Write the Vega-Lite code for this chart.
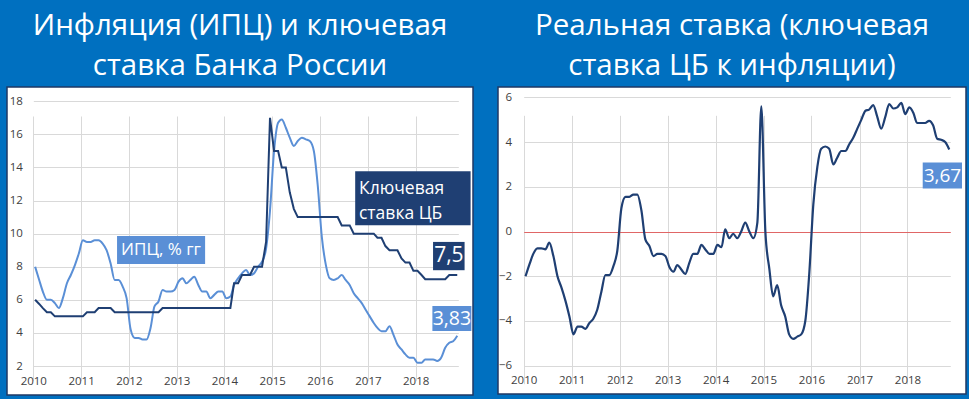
{
  "$schema": "https://vega.github.io/schema/vega-lite/v6.json",
  "background": "#0070C0",
  "padding": {"left": 6, "top": 9, "right": 6, "bottom": 6},
  "spacing": 23,
  "config": {
    "view": {"fill": "white", "stroke": "#1F3864", "strokeWidth": 1.5},
    "title": {"color": "white", "font": "Open Sans", "fontSize": 29.5, "fontWeight": "normal", "lineHeight": 40, "anchor": "middle", "offset": 6},
    "axis": {"labelFont": "Open Sans", "labelFontSize": 11.5, "labelColor": "#404040", "gridColor": "#D9D9D9", "gridWidth": 1, "domain": false, "ticks": false, "title": null, "labelFlush": false}
  },
  "datasets": {
    "m": [
      {"date": "2010-01-15", "cpi": 8.0, "key": 6.0, "real": -2.0},
      {"date": "2010-02-15", "cpi": 7.2, "key": 5.75, "real": -1.45},
      {"date": "2010-03-15", "cpi": 6.5, "key": 5.5, "real": -1.0},
      {"date": "2010-04-15", "cpi": 6.0, "key": 5.25, "real": -0.75},
      {"date": "2010-05-15", "cpi": 6.0, "key": 5.25, "real": -0.75},
      {"date": "2010-06-15", "cpi": 5.8, "key": 5.0, "real": -0.8},
      {"date": "2010-07-15", "cpi": 5.5, "key": 5.0, "real": -0.5},
      {"date": "2010-08-15", "cpi": 6.1, "key": 5.0, "real": -1.1},
      {"date": "2010-09-15", "cpi": 7.0, "key": 5.0, "real": -2.0},
      {"date": "2010-10-15", "cpi": 7.5, "key": 5.0, "real": -2.5},
      {"date": "2010-11-15", "cpi": 8.1, "key": 5.0, "real": -3.1},
      {"date": "2010-12-15", "cpi": 8.8, "key": 5.0, "real": -3.8},
      {"date": "2011-01-15", "cpi": 9.6, "key": 5.0, "real": -4.6},
      {"date": "2011-02-15", "cpi": 9.5, "key": 5.25, "real": -4.25},
      {"date": "2011-03-15", "cpi": 9.5, "key": 5.25, "real": -4.25},
      {"date": "2011-04-15", "cpi": 9.6, "key": 5.25, "real": -4.35},
      {"date": "2011-05-15", "cpi": 9.6, "key": 5.5, "real": -4.1},
      {"date": "2011-06-15", "cpi": 9.4, "key": 5.5, "real": -3.9},
      {"date": "2011-07-15", "cpi": 9.0, "key": 5.5, "real": -3.5},
      {"date": "2011-08-15", "cpi": 8.2, "key": 5.5, "real": -2.7},
      {"date": "2011-09-15", "cpi": 7.2, "key": 5.25, "real": -1.95},
      {"date": "2011-10-15", "cpi": 7.2, "key": 5.25, "real": -1.95},
      {"date": "2011-11-15", "cpi": 6.8, "key": 5.25, "real": -1.55},
      {"date": "2011-12-15", "cpi": 6.1, "key": 5.25, "real": -0.85},
      {"date": "2012-01-15", "cpi": 4.2, "key": 5.25, "real": 1.05},
      {"date": "2012-02-15", "cpi": 3.7, "key": 5.25, "real": 1.55},
      {"date": "2012-03-15", "cpi": 3.7, "key": 5.25, "real": 1.55},
      {"date": "2012-04-15", "cpi": 3.6, "key": 5.25, "real": 1.65},
      {"date": "2012-05-15", "cpi": 3.6, "key": 5.25, "real": 1.65},
      {"date": "2012-06-15", "cpi": 4.3, "key": 5.25, "real": 0.95},
      {"date": "2012-07-15", "cpi": 5.6, "key": 5.25, "real": -0.35},
      {"date": "2012-08-15", "cpi": 5.9, "key": 5.25, "real": -0.65},
      {"date": "2012-09-15", "cpi": 6.6, "key": 5.5, "real": -1.1},
      {"date": "2012-10-15", "cpi": 6.5, "key": 5.5, "real": -1.0},
      {"date": "2012-11-15", "cpi": 6.5, "key": 5.5, "real": -1.0},
      {"date": "2012-12-15", "cpi": 6.6, "key": 5.5, "real": -1.1},
      {"date": "2013-01-15", "cpi": 7.1, "key": 5.5, "real": -1.6},
      {"date": "2013-02-15", "cpi": 7.3, "key": 5.5, "real": -1.8},
      {"date": "2013-03-15", "cpi": 7.0, "key": 5.5, "real": -1.5},
      {"date": "2013-04-15", "cpi": 7.2, "key": 5.5, "real": -1.7},
      {"date": "2013-05-15", "cpi": 7.4, "key": 5.5, "real": -1.9},
      {"date": "2013-06-15", "cpi": 6.9, "key": 5.5, "real": -1.4},
      {"date": "2013-07-15", "cpi": 6.5, "key": 5.5, "real": -1.0},
      {"date": "2013-08-15", "cpi": 6.5, "key": 5.5, "real": -1.0},
      {"date": "2013-09-15", "cpi": 6.1, "key": 5.5, "real": -0.6},
      {"date": "2013-10-15", "cpi": 6.3, "key": 5.5, "real": -0.8},
      {"date": "2013-11-15", "cpi": 6.5, "key": 5.5, "real": -1.0},
      {"date": "2013-12-15", "cpi": 6.5, "key": 5.5, "real": -1.0},
      {"date": "2014-01-15", "cpi": 6.1, "key": 5.5, "real": -0.6},
      {"date": "2014-02-15", "cpi": 6.2, "key": 5.5, "real": -0.7},
      {"date": "2014-03-15", "cpi": 6.9, "key": 7.0, "real": 0.1},
      {"date": "2014-04-15", "cpi": 7.3, "key": 7.0, "real": -0.3},
      {"date": "2014-05-15", "cpi": 7.6, "key": 7.5, "real": -0.1},
      {"date": "2014-06-15", "cpi": 7.8, "key": 7.5, "real": -0.3},
      {"date": "2014-07-15", "cpi": 7.5, "key": 7.5, "real": 0.0},
      {"date": "2014-08-15", "cpi": 7.6, "key": 8.0, "real": 0.4},
      {"date": "2014-09-15", "cpi": 8.0, "key": 8.0, "real": 0.0},
      {"date": "2014-10-15", "cpi": 8.3, "key": 8.0, "real": -0.3},
      {"date": "2014-11-15", "cpi": 9.1, "key": 9.5, "real": 0.4},
      {"date": "2014-12-15", "cpi": 11.4, "key": 17.0, "real": 5.6},
      {"date": "2015-01-15", "cpi": 15.0, "key": 15.0, "real": 0.0},
      {"date": "2015-02-15", "cpi": 16.7, "key": 15.0, "real": -1.7},
      {"date": "2015-03-15", "cpi": 16.9, "key": 14.0, "real": -2.9},
      {"date": "2015-04-15", "cpi": 16.4, "key": 14.0, "real": -2.4},
      {"date": "2015-05-15", "cpi": 15.8, "key": 12.5, "real": -3.3},
      {"date": "2015-06-15", "cpi": 15.3, "key": 11.5, "real": -3.8},
      {"date": "2015-07-15", "cpi": 15.6, "key": 11.0, "real": -4.6},
      {"date": "2015-08-15", "cpi": 15.8, "key": 11.0, "real": -4.8},
      {"date": "2015-09-15", "cpi": 15.7, "key": 11.0, "real": -4.7},
      {"date": "2015-10-15", "cpi": 15.6, "key": 11.0, "real": -4.6},
      {"date": "2015-11-15", "cpi": 15.0, "key": 11.0, "real": -4.0},
      {"date": "2015-12-15", "cpi": 12.9, "key": 11.0, "real": -1.9},
      {"date": "2016-01-15", "cpi": 9.8, "key": 11.0, "real": 1.2},
      {"date": "2016-02-15", "cpi": 8.1, "key": 11.0, "real": 2.9},
      {"date": "2016-03-15", "cpi": 7.3, "key": 11.0, "real": 3.7},
      {"date": "2016-04-15", "cpi": 7.2, "key": 11.0, "real": 3.8},
      {"date": "2016-05-15", "cpi": 7.3, "key": 11.0, "real": 3.7},
      {"date": "2016-06-15", "cpi": 7.5, "key": 10.5, "real": 3.0},
      {"date": "2016-07-15", "cpi": 7.2, "key": 10.5, "real": 3.3},
      {"date": "2016-08-15", "cpi": 6.9, "key": 10.5, "real": 3.6},
      {"date": "2016-09-15", "cpi": 6.4, "key": 10.0, "real": 3.6},
      {"date": "2016-10-15", "cpi": 6.1, "key": 10.0, "real": 3.9},
      {"date": "2016-11-15", "cpi": 5.8, "key": 10.0, "real": 4.2},
      {"date": "2016-12-15", "cpi": 5.4, "key": 10.0, "real": 4.6},
      {"date": "2017-01-15", "cpi": 5.0, "key": 10.0, "real": 5.0},
      {"date": "2017-02-15", "cpi": 4.6, "key": 10.0, "real": 5.4},
      {"date": "2017-03-15", "cpi": 4.3, "key": 9.75, "real": 5.45},
      {"date": "2017-04-15", "cpi": 4.1, "key": 9.75, "real": 5.65},
      {"date": "2017-05-15", "cpi": 4.1, "key": 9.25, "real": 5.15},
      {"date": "2017-06-15", "cpi": 4.4, "key": 9.0, "real": 4.6},
      {"date": "2017-07-15", "cpi": 3.9, "key": 9.0, "real": 5.1},
      {"date": "2017-08-15", "cpi": 3.3, "key": 9.0, "real": 5.7},
      {"date": "2017-09-15", "cpi": 3.0, "key": 8.5, "real": 5.5},
      {"date": "2017-10-15", "cpi": 2.7, "key": 8.25, "real": 5.55},
      {"date": "2017-11-15", "cpi": 2.5, "key": 8.25, "real": 5.75},
      {"date": "2017-12-15", "cpi": 2.5, "key": 7.75, "real": 5.25},
      {"date": "2018-01-15", "cpi": 2.2, "key": 7.75, "real": 5.55},
      {"date": "2018-02-15", "cpi": 2.2, "key": 7.5, "real": 5.3},
      {"date": "2018-03-15", "cpi": 2.4, "key": 7.25, "real": 4.85},
      {"date": "2018-04-15", "cpi": 2.4, "key": 7.25, "real": 4.85},
      {"date": "2018-05-15", "cpi": 2.4, "key": 7.25, "real": 4.85},
      {"date": "2018-06-15", "cpi": 2.3, "key": 7.25, "real": 4.95},
      {"date": "2018-07-15", "cpi": 2.5, "key": 7.25, "real": 4.75},
      {"date": "2018-08-15", "cpi": 3.1, "key": 7.25, "real": 4.15},
      {"date": "2018-09-15", "cpi": 3.4, "key": 7.5, "real": 4.1},
      {"date": "2018-10-15", "cpi": 3.5, "key": 7.5, "real": 4.0},
      {"date": "2018-11-15", "cpi": 3.83, "key": 7.5, "real": 3.67}
    ],
    "lightL": [
      {"label": "ИПЦ, % гг", "d1": "2011-10-03", "d2": "2013-08-06", "v1": 8.17, "v2": 9.86, "dm": "2012-09-03", "vm": 9.01}
    ],
    "lightL2": [
      {"label": "3,83", "d1": "2018-05-09", "d2": "2019-03-03", "v1": 4.12, "v2": 5.63, "dm": "2018-10-05", "vm": 4.87}
    ],
    "darkL": [
      {"label": "7,5", "d1": "2018-05-14", "d2": "2019-01-10", "v1": 7.79, "v2": 9.5, "dm": "2018-09-12", "vm": 8.65}
    ],
    "keyL": [
      {"label": ["Ключевая", "ставка ЦБ"], "d1": "2016-09-26", "d2": "2019-02-25", "v1": 10.51, "v2": 13.77, "dm": "2016-10-25", "vm": 12.42}
    ],
    "lightR": [
      {"label": "3,67", "d1": "2018-04-27", "d2": "2019-02-20", "v1": 1.92, "v2": 3.08, "dm": "2018-09-24", "vm": 2.5}
    ]
  },
  "hconcat": [
    {
      "width": 466,
      "height": 308,
      "title": {"text": ["Инфляция (ИПЦ) и ключевая", "ставка Банка России"]},
      "encoding": {
        "x": {"type": "temporal", "scale": {"type": "utc", "domain": [{"year": 2010, "month": 1, "date": 1, "utc": true}, {"year": 2018, "month": 11, "date": 23, "utc": true}], "range": [26.3, 451.3]},
          "axis": {"format": "%Y", "tickCount": "year", "grid": true, "offset": -29, "labelPadding": 9}},
        "y": {"type": "quantitative", "scale": {"domain": [2, 18], "range": [279, 14.3]},
          "axis": {"values": [2, 4, 6, 8, 10, 12, 14, 16, 18], "grid": true, "offset": -26.3, "labelPadding": 11}}
      },
      "layer": [
        {
          "data": {"name": "m"},
          "mark": {"type": "line", "color": "#5A8FD6", "strokeWidth": 2, "interpolate": "monotone"},
          "encoding": {"x": {"field": "date"}, "y": {"field": "cpi"}}
        },
        {
          "data": {"name": "m"},
          "mark": {"type": "line", "color": "#1F3F73", "strokeWidth": 2},
          "encoding": {"x": {"field": "date"}, "y": {"field": "key"}}
        },
        {
          "data": {"name": "lightL"},
          "mark": {"type": "rect", "color": "#5A8FD6"},
          "encoding": {"x": {"field": "d1"}, "x2": {"field": "d2"}, "y": {"field": "v1"}, "y2": {"field": "v2"}}
        },
        {
          "data": {"name": "lightL"},
          "mark": {"type": "text", "color": "white", "font": "Open Sans", "fontSize": 17, "align": "center", "baseline": "middle"},
          "encoding": {"x": {"field": "dm"}, "y": {"field": "vm"}, "text": {"field": "label"}}
        },
        {
          "data": {"name": "lightL2"},
          "mark": {"type": "rect", "color": "#5A8FD6"},
          "encoding": {"x": {"field": "d1"}, "x2": {"field": "d2"}, "y": {"field": "v1"}, "y2": {"field": "v2"}}
        },
        {
          "data": {"name": "lightL2"},
          "mark": {"type": "text", "color": "white", "font": "Open Sans", "fontSize": 19.5, "align": "center", "baseline": "middle"},
          "encoding": {"x": {"field": "dm"}, "y": {"field": "vm"}, "text": {"field": "label"}}
        },
        {
          "data": {"name": "darkL"},
          "mark": {"type": "rect", "color": "#1F3F73"},
          "encoding": {"x": {"field": "d1"}, "x2": {"field": "d2"}, "y": {"field": "v1"}, "y2": {"field": "v2"}}
        },
        {
          "data": {"name": "darkL"},
          "mark": {"type": "text", "color": "white", "font": "Open Sans", "fontSize": 21, "align": "center", "baseline": "middle"},
          "encoding": {"x": {"field": "dm"}, "y": {"field": "vm"}, "text": {"field": "label"}}
        },
        {
          "data": {"name": "keyL"},
          "mark": {"type": "rect", "color": "#1F3F73"},
          "encoding": {"x": {"field": "d1"}, "x2": {"field": "d2"}, "y": {"field": "v1"}, "y2": {"field": "v2"}}
        },
        {
          "data": {"name": "keyL"},
          "mark": {"type": "text", "color": "white", "font": "Open Sans", "fontSize": 17.5, "align": "left", "baseline": "alphabetic", "lineHeight": 25},
          "encoding": {"x": {"field": "dm"}, "y": {"field": "vm"}, "text": {"field": "label"}}
        }
      ]
    },
    {
      "width": 468,
      "height": 307,
      "title": {"text": ["Реальная ставка (ключевая", "ставка ЦБ к инфляции)"]},
      "encoding": {
        "x": {"type": "temporal", "scale": {"type": "utc", "domain": [{"year": 2010, "month": 1, "date": 1, "utc": true}, {"year": 2018, "month": 11, "date": 23, "utc": true}], "range": [25.7, 452.3]},
          "axis": {"format": "%Y", "tickCount": "year", "grid": true, "offset": -28.3, "labelPadding": 9}},
        "y": {"type": "quantitative", "scale": {"domain": [-6, 6], "range": [278.7, 10.3]},
          "axis": {"values": [-6, -4, -2, 0, 2, 4, 6], "grid": true, "offset": -25.7, "labelPadding": 12,
            "gridColor": {"condition": {"test": "datum.value === 0", "value": "#E06666"}, "value": "#D9D9D9"}}}
      },
      "layer": [
        {
          "data": {"name": "m"},
          "mark": {"type": "line", "color": "#1F3F73", "strokeWidth": 2.2, "interpolate": "monotone"},
          "encoding": {"x": {"field": "date"}, "y": {"field": "real"}}
        },
        {
          "data": {"name": "lightR"},
          "mark": {"type": "rect", "color": "#5A8FD6"},
          "encoding": {"x": {"field": "d1"}, "x2": {"field": "d2"}, "y": {"field": "v1"}, "y2": {"field": "v2"}}
        },
        {
          "data": {"name": "lightR"},
          "mark": {"type": "text", "color": "white", "font": "Open Sans", "fontSize": 19, "align": "center", "baseline": "middle"},
          "encoding": {"x": {"field": "dm"}, "y": {"field": "vm"}, "text": {"field": "label"}}
        }
      ]
    }
  ]
}
